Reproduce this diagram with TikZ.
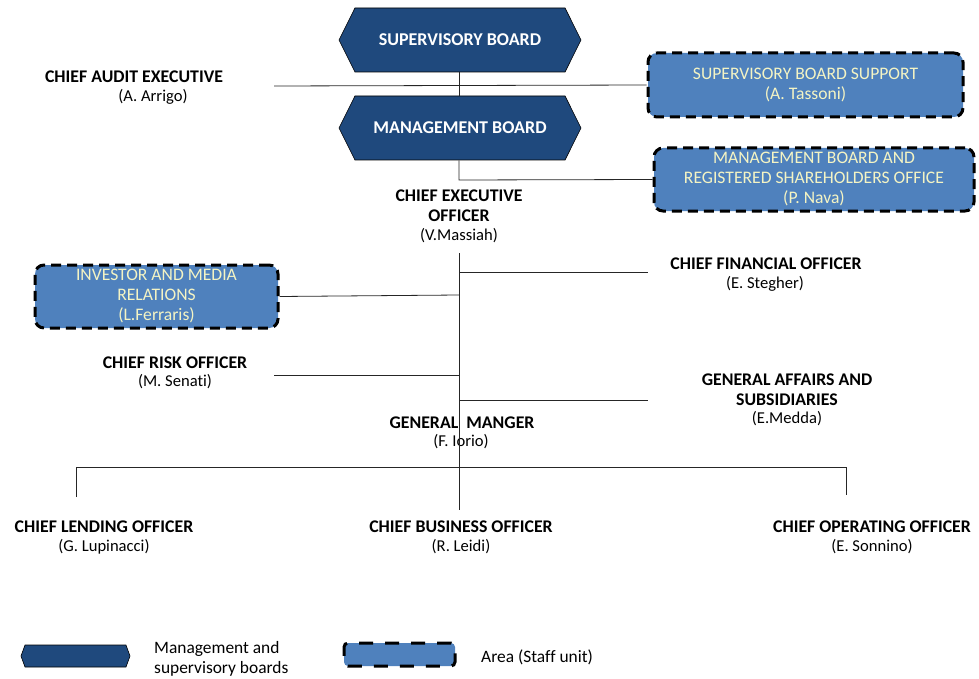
\documentclass[tikz,border=0pt]{standalone}
\usepackage{fontspec}
\setmainfont{Carlito}[Ligatures=NoCommon]
\usetikzlibrary{shapes.symbols}
\definecolor{hexblue}{HTML}{1F497D}
\definecolor{staffblue}{HTML}{4F81BD}
\definecolor{stafftext}{HTML}{F4F4C4}
\tikzset{
  hexa/.style={signal, signal to=east and west, signal pointer angle=127, fill=hexblue, draw=black, line width=0.6pt,
    text=white, font=\fontsize{18}{20}\selectfont\bfseries, minimum width=242pt, minimum height=64pt, inner sep=0pt},
  staff/.style={draw=black, fill=staffblue, line width=3pt, dash pattern=on 10pt off 6pt, rounded corners=9pt,
    text=stafftext, font=\fontsize{17.6}{20}\selectfont, align=center, inner sep=0pt},
  role/.style={font=\fontsize{17.8}{19.5}\selectfont\bfseries, align=center, inner sep=0pt},
  who/.style={font=\fontsize{16.6}{18}\selectfont, inner sep=0pt},
  conn/.style={line width=0.8pt, draw=black!85},
  legtext/.style={font=\fontsize{17.4}{20}\selectfont, align=left, inner sep=0pt, anchor=west}
}
\begin{document}
\begin{tikzpicture}[x=1pt,y=-1pt]
\useasboundingbox (0,0) rectangle (979,679);
% boards
\node[hexa] (sb) at (460,40) {SUPERVISORY BOARD};
\node[hexa] (mb) at (460,128) {MANAGEMENT BOARD};
% staff units
\node[staff, minimum width=315pt, minimum height=64pt] (sbs) at (805.5,85) {SUPERVISORY BOARD SUPPORT\\(A. Tassoni)};
\node[staff, minimum width=320pt, minimum height=63pt] (mbo) at (814,179.5) {MANAGEMENT BOARD AND\\REGISTERED SHAREHOLDERS OFFICE\\(P. Nava)};
\node[staff, minimum width=243pt, minimum height=63pt] (imr) at (156.5,296.5) {INVESTOR AND MEDIA\\RELATIONS\\(L.Ferraris)};
% roles
\node[role] (cae) at (134,77) {CHIEF AUDIT EXECUTIVE};
\node[who] (caew) at (153,97) {(A. Arrigo)};
\node[role] (ceo) at (459,205.5) {CHIEF EXECUTIVE\\OFFICER};
\node[who] (ceow) at (459,236) {(V.Massiah)};
\node[role] (cfo) at (766,264) {CHIEF FINANCIAL OFFICER};
\node[who] (cfow) at (765,284) {(E. Stegher)};
\node[role] (cro) at (175,363) {CHIEF RISK OFFICER};
\node[who] (crow) at (175,382) {(M. Senati)};
\node[role] (gas) at (787,389.5) {GENERAL AFFAIRS AND\\SUBSIDIARIES};
\node[who] (gasw) at (787,419) {(E.Medda)};
\node[role] (gm) at (462,423) {GENERAL~~MANGER};
\node[who] (gmw) at (461,442) {(F. Iorio)};
\node[role] (clo) at (104,527) {CHIEF LENDING OFFICER};
\node[who] (clow) at (104,547) {(G. Lupinacci)};
\node[role] (cbo) at (461,527) {CHIEF BUSINESS OFFICER};
\node[who] (cbow) at (461,547) {(R. Leidi)};
\node[role] (coo) at (872,527) {CHIEF OPERATING OFFICER};
\node[who] (coow) at (872,547) {(E. Sonnino)};
% coordinates
\coordinate (audL) at (274,86);
\coordinate (audJ) at (459,86);
\coordinate (mbJ) at (459,180);
\coordinate (ceoTop) at (459,253);
\coordinate (ceoBot) at (459,510);
\coordinate (cfoJ) at (459,272);
\coordinate (cfoE) at (648,272);
\coordinate (imrJ) at (459,295);
\coordinate (croL) at (274,375);
\coordinate (croJ) at (459,375);
\coordinate (gasJ) at (459,400);
\coordinate (gasE) at (648,400);
\coordinate (barL) at (76,467);
\coordinate (barR) at (846,467);
\coordinate (cloT) at (76,497);
\coordinate (cooT) at (846,495);
% connectors
\draw[conn] (sb.south -| audJ) -- (mb.north -| audJ);
\draw[conn] (audL) -- (sbs.west);
\draw[conn] (mb.south -| mbJ) -- (mbJ) -- (mbo.west);
\draw[conn] (ceoTop) -- (ceoBot);
\draw[conn] (cfoJ) -- (cfoE);
\draw[conn] (imr.east) -- (imrJ);
\draw[conn] (croL) -- (croJ);
\draw[conn] (gasJ) -- (gasE);
\draw[conn] (cloT) -- (barL) -- (barR) -- (cooT);
% legend
\node[hexa, minimum width=109pt, minimum height=22pt, signal pointer angle=140] (lh) at (75.5,656) {};
\node[legtext] (lht) at (154,659) {Management and\\supervisory boards};
\node[staff, minimum width=111pt, minimum height=23pt, rounded corners=4pt, dash pattern=on 14pt off 12pt] (ls) at (399.5,654.5) {};
\node[legtext] (lst) at (481,657) {Area (Staff unit)};
\end{tikzpicture}
\end{document}
